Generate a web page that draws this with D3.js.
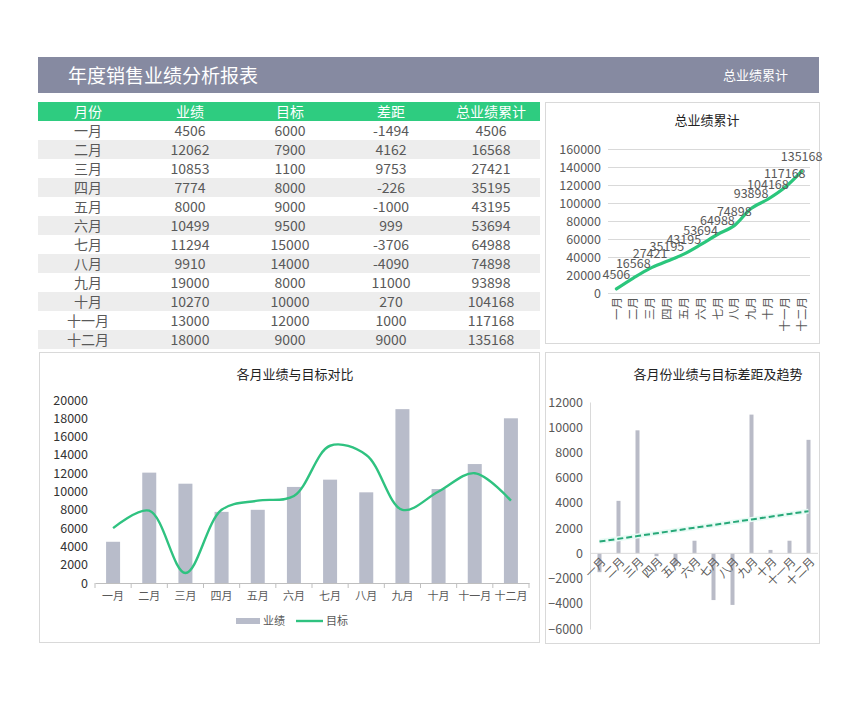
<!DOCTYPE html>
<html><head><meta charset="utf-8">
<script src="https://cdn.jsdelivr.net/npm/d3@7"></script>
<style>
body{margin:0;background:#fff;}
svg{display:block;font-family:"Noto Sans CJK SC","Microsoft YaHei",sans-serif;}
</style></head>
<body><svg id="c" width="857" height="705"></svg>
<script>
const months = ['一月','二月','三月','四月','五月','六月','七月','八月','九月','十月','十一月','十二月'];
const sales = [4506,12062,10853,7774,8000,10499,11294,9910,19000,10270,13000,18000];
const targets = [6000,7900,1100,8000,9000,9500,15000,14000,8000,10000,12000,9000];
const gaps = [-1494,4162,9753,-226,-1000,999,-3706,-4090,11000,270,1000,9000];
const cumulative = [4506,16568,27421,35195,43195,53694,64988,74898,93898,104168,117168,135168];
const tableHeaders = ['月份','业绩','目标','差距','总业绩累计'];
const cumTicks = [0,20000,40000,60000,80000,100000,120000,140000,160000];
const compTicks = [0,2000,4000,6000,8000,10000,12000,14000,16000,18000,20000];
const gapTicks = [-6000,-4000,-2000,0,2000,4000,6000,8000,10000,12000];

const svg = d3.select('#c');
const txt = '#595959';
const ff = '"Noto Sans CJK SC",sans-serif';

// Header bar
svg.append('rect').attr('x',38).attr('y',57).attr('width',781).attr('height',36).attr('fill','#868aa1');
svg.append('text').attr('x',68).attr('y',83).attr('fill','#fff').attr('font-size',19).text('年度销售业绩分析报表');
svg.append('text').attr('x',788).attr('y',80).attr('fill','#fff').attr('font-size',13).attr('text-anchor','end').text('总业绩累计');

// Table
const colX = [88,190,290,391,491];
const rowH = 19, tableTop = 102;
svg.append('rect').attr('x',38).attr('y',tableTop).attr('width',502).attr('height',rowH).attr('fill','#2ecc80');
tableHeaders.forEach((h,i)=>{
  svg.append('text').attr('x',colX[i]).attr('y',tableTop+rowH/2).attr('dy','0.36em')
    .attr('text-anchor','middle').attr('fill','#fff').attr('font-size',14).text(h);
});
months.forEach((m,r)=>{
  const y = tableTop + rowH*(r+1);
  if (r%2===1) svg.append('rect').attr('x',38).attr('y',y).attr('width',502).attr('height',rowH).attr('fill','#ededed');
  const vals = [m, sales[r], targets[r], gaps[r], cumulative[r]];
  vals.forEach((v,i)=>{
    svg.append('text').attr('x',colX[i]).attr('y',y+rowH/2).attr('dy','0.36em')
      .attr('text-anchor','middle').attr('fill',txt).attr('font-size',14).text(v);
  });
});

// Panels
function panel(x,y,w,h){svg.append('rect').attr('x',x+0.5).attr('y',y+0.5).attr('width',w).attr('height',h).attr('fill','#fff').attr('stroke','#d9d9d9');}
panel(545,102,274,241);
panel(39,352,500,290);
panel(545,352,274,291);

// ---------- Top right: cumulative ----------
{
  const x = d3.scaleBand().domain(months).range([608,810]);
  const y = d3.scaleLinear().domain([0,160000]).range([293,149]);
  svg.append('text').attr('x',707).attr('y',120).attr('dy','0.36em').attr('text-anchor','middle').attr('font-size',13).attr('fill','#222').text('总业绩累计');
  const ga = svg.append('g').attr('transform','translate(608,0)')
    .call(d3.axisLeft(y).tickValues(cumTicks).tickSize(-202).tickPadding(7).tickFormat(d3.format('d')));
  ga.select('.domain').remove();
  ga.selectAll('line').attr('stroke','#d9d9d9');
  ga.selectAll('text').attr('fill',txt).attr('font-size',12.5).attr('font-family',ff);
  const gx = svg.append('g').attr('transform','translate(0,293)').call(d3.axisBottom(x).tickSize(0).tickPadding(0));
  gx.select('.domain').remove();
  gx.selectAll('text').attr('fill',txt).attr('font-size',11.5).attr('font-family',ff)
    .attr('x',0).attr('y',0).attr('dy','0.36em').attr('text-anchor','end')
    .attr('transform','translate(0,4) rotate(-90)');
  const line = d3.line().x((d,i)=>x(months[i])+x.bandwidth()/2).y(d=>y(d)).curve(d3.curveCatmullRom.alpha(0.5));
  svg.append('path').datum(cumulative).attr('d',line).attr('fill','none').attr('stroke','#2bc67c').attr('stroke-width',3.2).attr('stroke-linecap','round');
  svg.append('g').selectAll('text').data(cumulative).join('text')
    .attr('x',(d,i)=>x(months[i])+x.bandwidth()/2).attr('y',d=>y(d)-10)
    .attr('text-anchor','middle').attr('fill',txt).attr('font-size',12.5).text(d=>d);
}

// ---------- Bottom left: sales vs target ----------
{
  const x = d3.scaleBand().domain(months).range([95,529]);
  const y = d3.scaleLinear().domain([0,20000]).range([583,400]);
  svg.append('text').attr('x',295).attr('y',374).attr('dy','0.36em').attr('text-anchor','middle').attr('font-size',13).attr('fill','#222').text('各月业绩与目标对比');
  const ga = svg.append('g').attr('transform','translate(95,0)')
    .call(d3.axisLeft(y).tickValues(compTicks).tickSize(0).tickPadding(7).tickFormat(d3.format('d')));
  ga.select('.domain').remove();
  ga.selectAll('text').attr('fill','#333').attr('font-size',12.5).attr('font-family',ff);
  svg.append('g').selectAll('rect').data(sales).join('rect')
    .attr('x',(d,i)=>x(months[i])+x.bandwidth()/2-7).attr('width',14)
    .attr('y',d=>y(d)).attr('height',d=>583-y(d)).attr('fill','#b8bcca');
  const gx = svg.append('g').attr('transform','translate(0,583)').call(d3.axisBottom(x).tickSize(0).tickPadding(9));
  gx.select('.domain').attr('stroke','#bfbfbf');
  gx.selectAll('text').attr('fill',txt).attr('font-size',11).attr('font-family',ff);
  const bounds = months.map(m=>x(m)).concat([x.range()[1]]);
  svg.append('g').selectAll('line').data(bounds).join('line')
    .attr('x1',d=>d).attr('x2',d=>d).attr('y1',583).attr('y2',588).attr('stroke','#bfbfbf');
  const line = d3.line().x((d,i)=>x(months[i])+x.bandwidth()/2).y(d=>y(d)).curve(d3.curveCatmullRom.alpha(0.5));
  svg.append('path').datum(targets).attr('d',line).attr('fill','none').attr('stroke','#2fc280').attr('stroke-width',2.4);
  // legend
  svg.append('rect').attr('x',236).attr('y',618).attr('width',24).attr('height',6).attr('fill','#b8bcca');
  svg.append('text').attr('x',263).attr('y',621).attr('dy','0.36em').attr('font-size',11).attr('fill',txt).text('业绩');
  svg.append('line').attr('x1',296).attr('x2',323).attr('y1',621).attr('y2',621).attr('stroke','#2fc280').attr('stroke-width',2.4);
  svg.append('text').attr('x',326).attr('y',621).attr('dy','0.36em').attr('font-size',11).attr('fill',txt).text('目标');
}

// ---------- Bottom right: gap & trend ----------
{
  const x = d3.scaleBand().domain(months).range([590,818]);
  const y = d3.scaleLinear().domain([-6000,12000]).range([629,402]);
  svg.append('text').attr('x',718).attr('y',374).attr('dy','0.36em').attr('text-anchor','middle').attr('font-size',13).attr('fill','#222').text('各月份业绩与目标差距及趋势');
  const ga = svg.append('g').attr('transform','translate(590,0)')
    .call(d3.axisLeft(y).tickValues(gapTicks).tickSize(0).tickPadding(7).tickFormat(d3.format('d')));
  ga.select('.domain').attr('stroke','#d9d9d9');
  ga.selectAll('text').attr('fill',txt).attr('font-size',12.5).attr('font-family',ff);
  svg.append('g').selectAll('rect').data(gaps).join('rect')
    .attr('x',(d,i)=>x(months[i])+x.bandwidth()/2-2).attr('width',4)
    .attr('y',d=>y(Math.max(0,d))).attr('height',d=>Math.abs(y(d)-y(0))).attr('fill','#b9bbc7');
  svg.append('line').attr('x1',590).attr('x2',818).attr('y1',y(0)).attr('y2',y(0)).attr('stroke','#d9d9d9');
  // linear trendline (least squares over the gap series)
  const n = gaps.length, xs = d3.range(1,n+1);
  const mx = d3.mean(xs), my = d3.mean(gaps);
  const slope = d3.sum(xs,(v,i)=>(v-mx)*(gaps[i]-my))/d3.sum(xs,v=>(v-mx)*(v-mx));
  const icpt = my - slope*mx;
  const trend = xs.map(v=>icpt+slope*v);
  const line = d3.line().x((d,i)=>x(months[i])+x.bandwidth()/2).y(d=>y(d));
  svg.append('path').datum(trend).attr('d',line).attr('fill','none').attr('stroke','#e8fbf5').attr('stroke-width',5);
  svg.append('path').datum(trend).attr('d',line).attr('fill','none').attr('stroke','#27a878').attr('stroke-width',2).attr('stroke-dasharray','6,3');
  svg.append('g').selectAll('text').data(months).join('text')
    .attr('text-anchor','end').attr('font-size',11.5).attr('fill',txt)
    .attr('transform',(d)=>`translate(${x(d)+x.bandwidth()/2+4},${y(0)+6}) rotate(-45)`)
    .attr('dy','0.36em').text(d=>d);
}
</script></body></html>
